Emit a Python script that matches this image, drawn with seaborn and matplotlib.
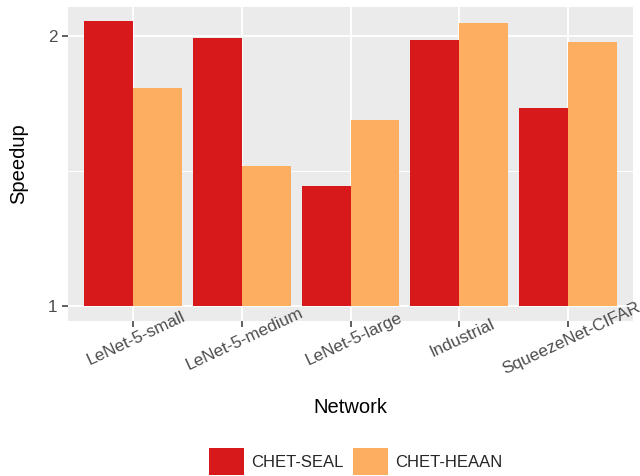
import numpy as np
import pandas as pd
import matplotlib
matplotlib.use("Agg")
import matplotlib.pyplot as plt
from matplotlib.patches import Patch
import seaborn as sns

networks = ["LeNet-5-small", "LeNet-5-medium", "LeNet-5-large", "Industrial", "SqueezeNet-CIFAR"]
seal_speedup = [2.08, 1.99, 1.36, 1.98, 1.66]
heaan_speedup = [1.75, 1.43, 1.61, 2.07, 1.97]
compilers = ["CHET-SEAL", "CHET-HEAAN"]
colors = ["#D7191C", "#FDAE61"]

df = pd.DataFrame({
    "Network": networks * 2,
    "Speedup": seal_speedup + heaan_speedup,
    "Compiler": [compilers[0]] * len(networks) + [compilers[1]] * len(networks),
})

sns.set_theme(style="darkgrid")
plt.rcParams["font.family"] = ["Liberation Sans", "DejaVu Sans"]

fig = plt.figure(figsize=(6.4, 4.76), dpi=100)
ax = fig.add_axes([68 / 640, 1 - 320.7 / 476, (633 - 68) / 640, (320.7 - 7) / 476])
ax.set_facecolor("#EBEBEB")

sns.barplot(data=df, x="Network", y="Speedup", hue="Compiler",
            palette=colors, hue_order=compilers, width=0.9,
            saturation=1, linewidth=0, ax=ax, legend=False)

ax.set_yscale("log")
# bars rise from speedup 1 (zero on the log axis)
for p in ax.patches:
    h = p.get_height()
    p.set_y(1.0)
    p.set_height(h - 1.0)

ax.set_ylim(2 ** -0.0564, 2 ** 1.1076)
ax.set_xlim(-0.6, len(networks) - 0.4)
ax.set_yticks([1, 2])
ax.set_yticklabels(["1", "2"])
ax.set_yticks([np.sqrt(2)], minor=True)
ax.yaxis.set_minor_formatter(plt.NullFormatter())

ax.grid(True, which="major", color="white", linewidth=1.3)
ax.grid(True, which="minor", axis="y", color="white", linewidth=0.7)
ax.set_axisbelow(True)
for s in ax.spines.values():
    s.set_visible(False)

ax.tick_params(axis="both", which="major", length=4, width=1.1, color="#333333",
               labelcolor="#4D4D4D", labelsize=12.3, pad=3.5)
ax.tick_params(axis="y", which="minor", length=0)
ax.tick_params(axis="x", bottom=True, pad=4)
ax.tick_params(axis="y", left=True)
for lbl in ax.get_xticklabels():
    lbl.set_rotation(25)
    lbl.set_rotation_mode("anchor")
    lbl.set_ha("center")
    lbl.set_va("top")

ax.set_xlabel("Network", fontsize=14.5, color="black", labelpad=15)
ax.set_ylabel("Speedup", fontsize=14.5, color="black", labelpad=14)

handles = [Patch(facecolor=c, edgecolor="none", label=l) for c, l in zip(colors, compilers)]
fig.legend(handles=handles, loc="center", bbox_to_anchor=(355.5 / 640, 1 - 461.5 / 476),
           ncol=2, frameon=False, fontsize=12, handlelength=2.1, handleheight=2.1,
           handletextpad=0.42, columnspacing=0.55, borderpad=0)

fig.savefig("out.png", dpi=100)
